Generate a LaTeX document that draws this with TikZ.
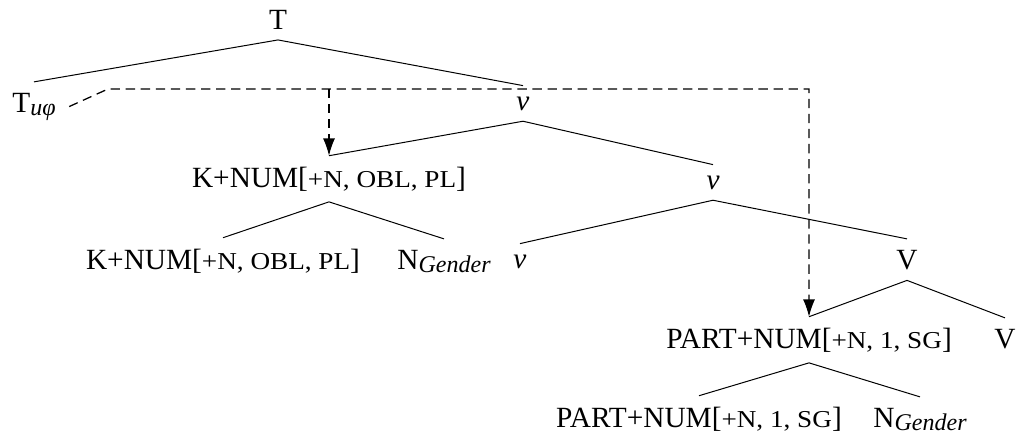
\documentclass[tikz,border=0pt]{standalone}
\usepackage{fontspec}
\setmainfont{Liberation Serif}
\usepackage{graphicx}
\usetikzlibrary{arrows.meta}
\newcommand{\feat}[1]{[\scalebox{1.12}[1]{\fontsize{18.2}{18.2}\selectfont #1}]}
\newcommand{\lowsub}[1]{\raisebox{-2.4pt}{\fontsize{18}{18}\selectfont\itshape #1}}

\begin{document}
\begin{tikzpicture}[x=0.75pt,y=-0.75pt,font=\fontsize{22}{26}\selectfont,
		cat/.style={inner xsep=0pt,inner ysep=8pt,anchor=base},
		branch/.style={line width=0.75pt},
		agree/.style={line width=0.95pt,dash pattern=on 7pt off 4.3pt,-{Latex[length=13pt,width=9pt]}}]
				\useasboundingbox (0,0) rectangle (1016,437);
				\node[cat] (T) at (278,29) {T};
				\node[cat] (Tu) at (34,112) {T\lowsub{uφ}};
				\node[cat] (v1) at (523,110) {\textit{v}};
				\node[cat] (knum1) at (329,187) {K+NUM\feat{+N, OBL, PL}};
				\node[cat] (v2) at (713,189) {\textit{v}};
				\node[cat] (knum2) at (223,269) {K+NUM\feat{+N, OBL, PL}};
				\node[cat] (ngen1) at (444,269) {N\lowsub{Gender}};
				\node[cat] (v3) at (520,268) {\textit{v}};
				\node[cat] (V1) at (907,269) {V};
				\node[cat] (part1) at (809,348) {PART+NUM\feat{+N, 1, SG}};
				\node[cat] (V2) at (1005,348) {V};
				\node[cat] (part2) at (699,427) {PART+NUM\feat{+N, 1, SG}};
				\node[cat] (ngen2) at (920,427) {N\lowsub{Gender}};
				\draw[branch] (Tu.north) -- (T.south) -- (v1.north);
				\draw[branch] (knum1.north) -- (v1.south) -- (v2.north);
				\draw[branch] (knum2.north) -- (knum1.south) -- (ngen1.north);
				\draw[branch] (v3.north) -- (v2.south) -- (V1.north);
				\draw[branch] (part1.north) -- (V1.south) -- (V2.north);
				\draw[branch] (part2.north) -- (part1.south) -- (ngen2.north);
				\coordinate (start) at ([xshift=10pt]Tu.east);
				\coordinate (bend) at (108,89);
				\draw[agree] (start) -- (bend) -| (part1.north);
				\draw[agree] (bend -| knum1.north) -- (knum1.north);
\end{tikzpicture}
\end{document}
